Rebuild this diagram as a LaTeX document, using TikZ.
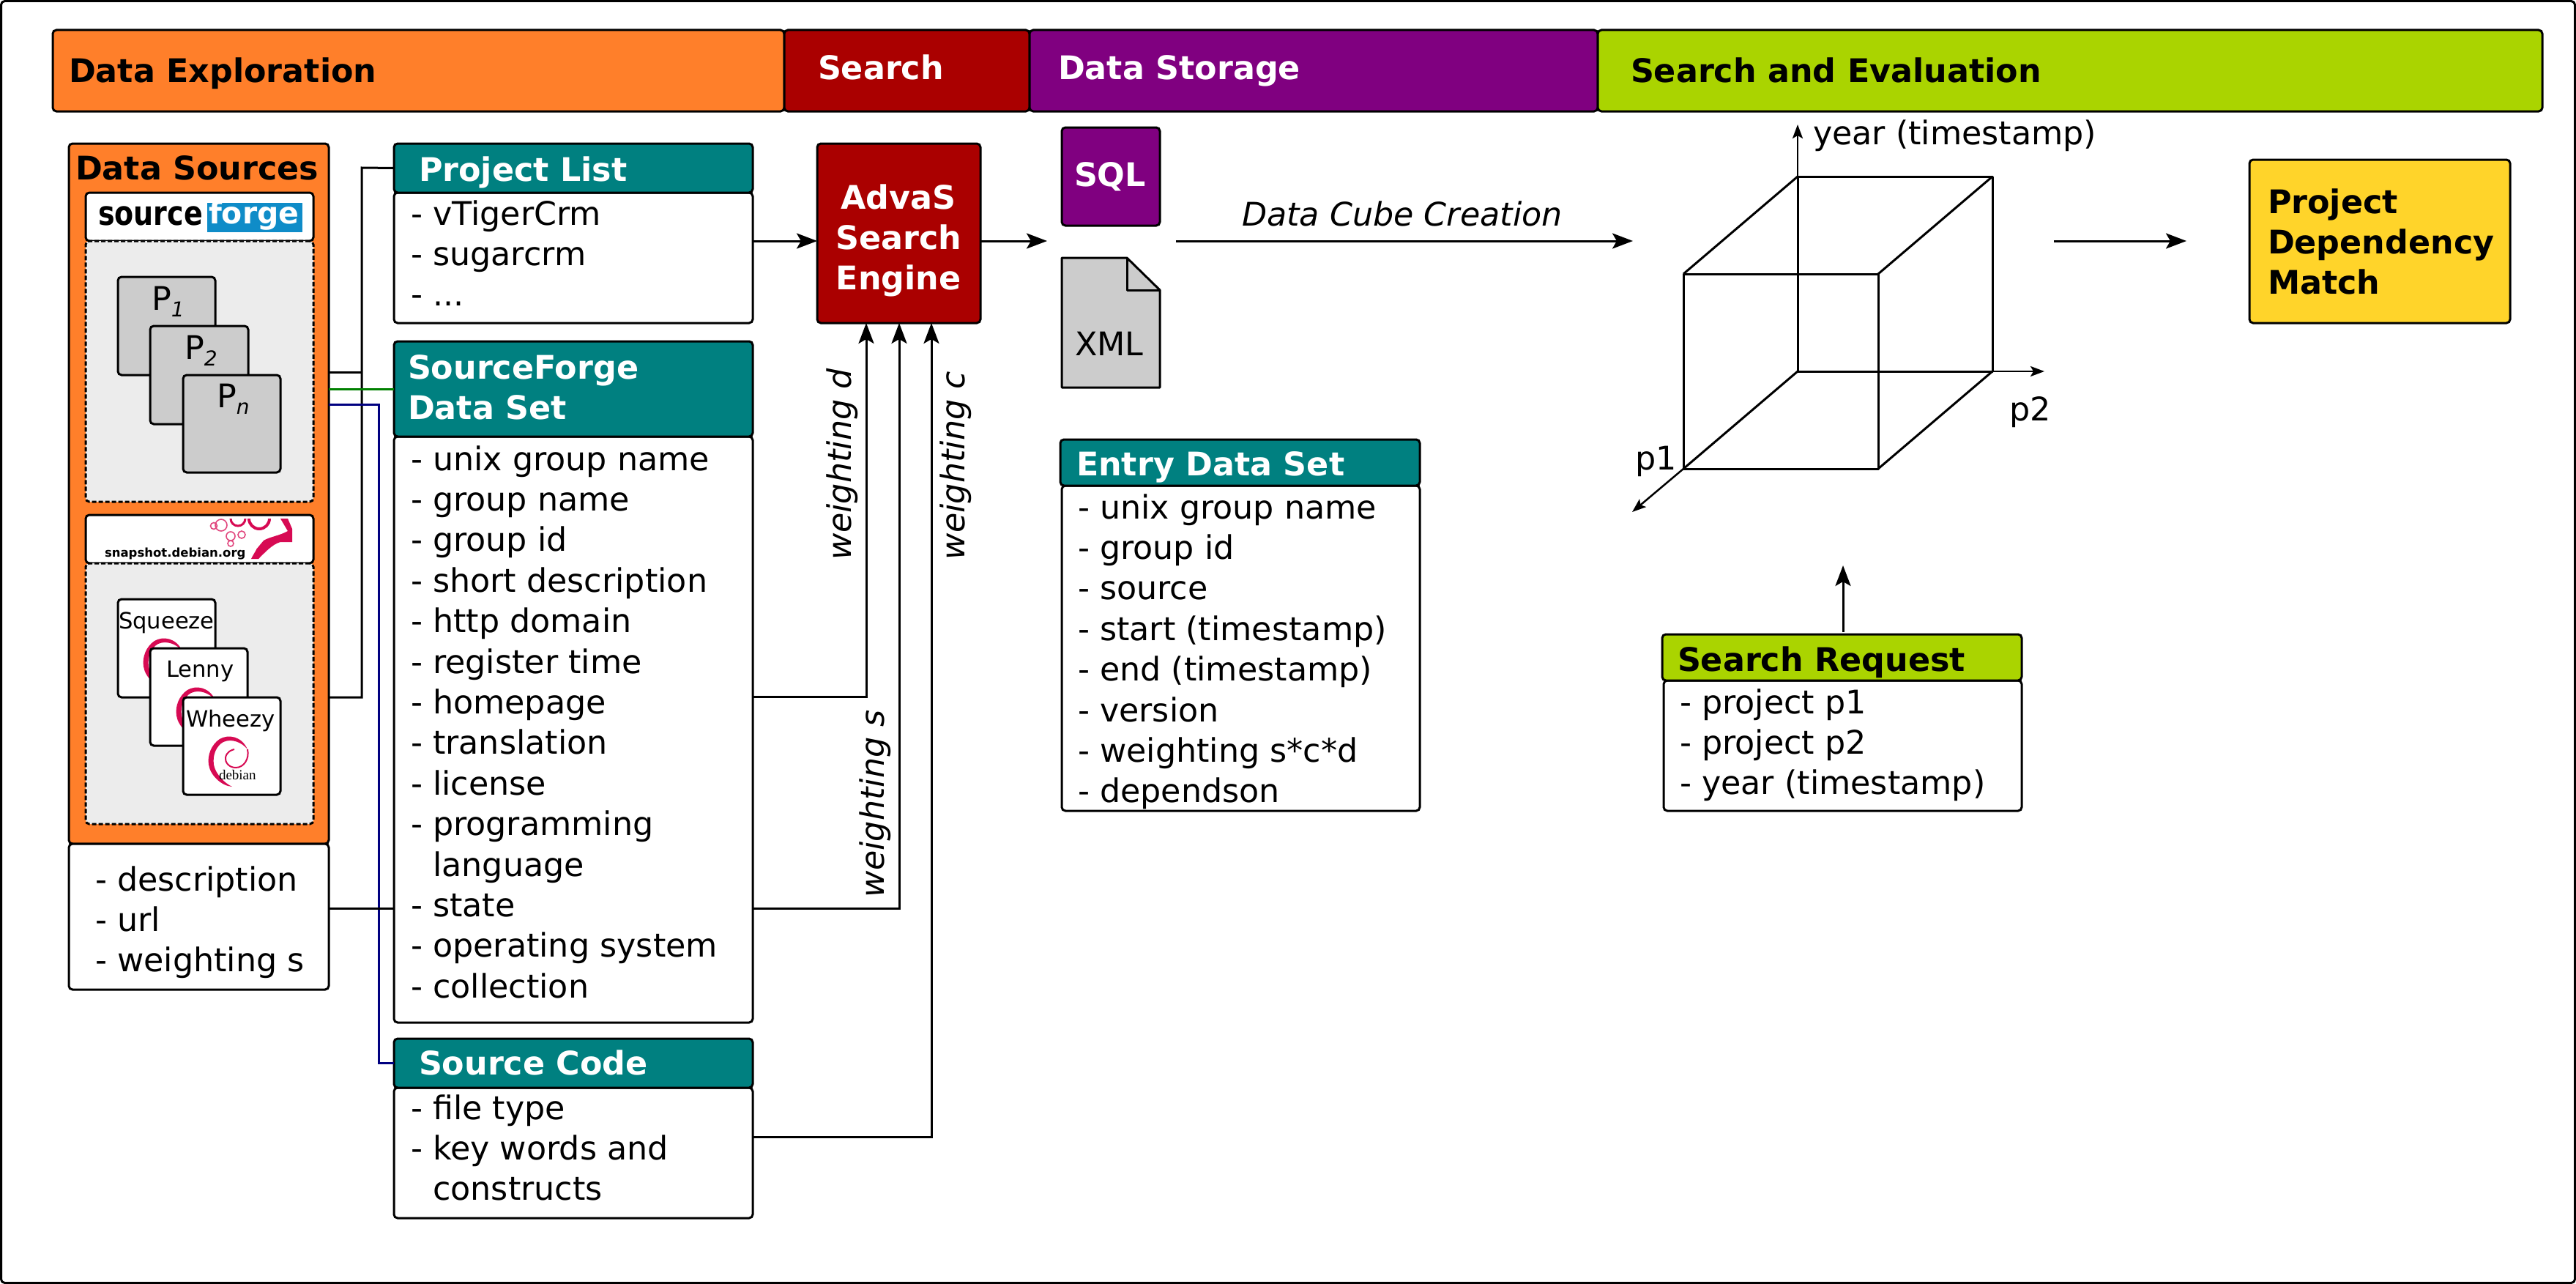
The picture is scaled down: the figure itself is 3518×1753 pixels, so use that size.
\documentclass[tikz,border=0pt]{standalone}
\usepackage{fontspec}
\setmainfont{DejaVu Sans}
\newfontfamily\tmsfont{Liberation Serif}
\usetikzlibrary{fit,arrows.meta,calc}
\definecolor{cOrange}{HTML}{FF7F2A}
\definecolor{cRed}{HTML}{AA0000}
\definecolor{cPurple}{HTML}{800080}
\definecolor{cLime}{HTML}{AAD400}
\definecolor{cTeal}{HTML}{008080}
\definecolor{cYellow}{HTML}{FFD42A}
\definecolor{cPanel}{HTML}{ECECEC}
\definecolor{cGray}{HTML}{CCCCCC}
\definecolor{cDeb}{HTML}{D70A53}
\definecolor{cSF}{HTML}{0F8CC8}
\newcommand\bx[6]{\node[#1,fit={(#3,#4)(#5,#6)}] (#2) {};}
\newcommand\tx[5][]{\node[plain,#1] (#2) at (#3,#4) {#5};}
\newcommand\lst[4]{\node[listtxt] (#1) at (#2,{#3-40}) {\rule{0pt}{40pt}#4};}
\newcommand\hang{\hphantom{-\ }}
\newcommand\mainfs{\fontsize{44.4}{55.4}\selectfont}
\tikzset{
  x=1pt,y=-1pt,
  plain/.style={inner sep=0,outer sep=0,anchor=base west,font=\mainfs},
  bold/.style={font=\mainfs\bfseries},
  obl/.style={font=\mainfs\itshape},
  listtxt/.style={inner sep=0,outer sep=0,anchor=north west,align=left,font=\mainfs},
  small/.style={font=\fontsize{30.6}{36}\selectfont},
  bxbase/.style={rectangle,rounded corners=5pt,inner sep=0,outer sep=0,draw=black,line width=3pt},
  wbox/.style={bxbase,fill=white},
  obox/.style={bxbase,fill=cOrange},
  rbox/.style={bxbase,fill=cRed},
  pbox/.style={bxbase,fill=cPurple},
  lbox/.style={bxbase,fill=cLime},
  tbox/.style={bxbase,fill=cTeal},
  ybox/.style={bxbase,fill=cYellow},
  gbox/.style={bxbase,fill=cGray},
  panel/.style={bxbase,fill=cPanel,dash pattern=on 6pt off 3pt},
  conn/.style={draw=black,line width=3pt},
  arr/.style={conn,-{Stealth[length=28pt,width=21pt,inset=6pt]}},
  axisarr/.style={draw=black,line width=2.5pt,-{Stealth[length=19pt,width=14pt,inset=4pt]}},
  cube/.style={draw=black,line width=3pt,line join=round},
}
\begin{document}
\begin{tikzpicture}
\useasboundingbox (0,0) rectangle (3518,1753);
\fill[white] (0,0) rectangle (3518,1753);
% outer frame
\bx{wbox}{frame}{1.5}{1.5}{3516.5}{1751.5}
% top bars
\bx{obox}{barA}{72}{41}{1071}{152}
\bx{rbox}{barB}{1071}{41}{1406}{152}
\bx{pbox}{barC}{1406}{41}{2182}{152}
\bx{lbox}{barD}{2182}{41}{3472}{152}
\tx[bold]{barAt}{94}{112}{Data Exploration}
\tx[bold,text=white]{barBt}{1117}{108}{Search}
\tx[bold,text=white]{barCt}{1445}{108}{Data Storage}
\tx[bold]{barDt}{2227}{112}{Search and Evaluation}
% data sources
\bx{obox}{ds}{94}{196}{449}{1152}
\bx{wbox}{desc}{94}{1152}{449}{1351}
\tx[bold]{dst}{103}{245}{Data Sources}
\lst{desct}{130}{1216}{- description\\- url\\- weighting s}
\bx{wbox}{sflogo}{117}{263}{428}{329}
\bx{panel}{sfpanel}{117}{329}{428}{685}
\node[plain,font=\fontsize{40}{40}\selectfont\bfseries] (sfa) at (134,307) {\scalebox{.95}[1.15]{source}};
\fill[cSF] (283,277) rectangle (413,317);
\node[plain,text=white,font=\fontsize{41}{41}\selectfont\bfseries] (sfb) at (285,305) {forge};
\bx{gbox}{p1}{161}{378}{294}{512}
\tx{p1t}{207}{423}{P\raisebox{-9pt}{\fontsize{28}{28}\selectfont\itshape 1}}
\bx{gbox}{p2}{205}{445}{339}{579}
\tx{p2t}{252}{490}{P\raisebox{-9pt}{\fontsize{28}{28}\selectfont\itshape 2}}
\bx{gbox}{pn}{250}{512}{383}{645}
\tx{pnt}{296}{556}{P\raisebox{-9pt}{\fontsize{28}{28}\selectfont\itshape n}}
% debian
\bx{wbox}{deblogo}{117}{703}{428}{769}
\bx{panel}{debpanel}{117}{769}{428}{1125}
\node[plain,font=\fontsize{16.5}{18}\selectfont\bfseries] (snap) at (143,760) {snapshot.debian.org};
\begin{scope}
\clip (280,708) rectangle (400,768);
\fill[cDeb] (383,708) -- (393,708) -- (399,722) -- (399,740) -- (383,740)
  .. controls (372,743) and (362,754) .. (353,763) -- (343,763)
  .. controls (347,755) and (352,748) .. (350,750) -- (360,738)
  .. controls (368,733) and (383,731) .. (393,725) -- cycle;
\draw[cDeb,line width=4pt] (354,708) circle (14);
\draw[cDeb,line width=3pt] (325,708) circle (10);
\draw[cDeb!75!white,line width=1.6pt] (302,717) circle (8) (292,718) circle (4.5) (315,732) circle (6) (330,730) circle (5) (315,742) circle (4);
\end{scope}
\newcommand\swirl[2]{%
  \begin{scope}[shift={(#1,#2)}]
  \fill[cDeb] (338,1023) .. controls (330,1005) and (312,1002) .. (300,1009)
    .. controls (288,1017) and (283,1032) .. (285,1044)
    .. controls (287,1058) and (302,1073) .. (317,1074)
    .. controls (306,1069) and (294,1056) .. (292,1044)
    .. controls (290,1030) and (296,1018) .. (305,1013)
    .. controls (316,1008) and (330,1013) .. (338,1023) -- cycle;
  \draw[cDeb,line width=2pt] (338,1023) .. controls (341,1036) and (333,1048) .. (322,1048)
    .. controls (312,1048) and (307,1040) .. (308,1034) .. controls (310,1026) and (316,1024) .. (320,1023);
  \end{scope}}
\bx{wbox}{sq}{161}{818}{294}{952}
\swirl{-89}{-134}
\tx[small]{sqt}{162}{858}{Squeeze}
\bx{wbox}{le}{205}{885}{338}{1018}
\swirl{-44}{-67}
\tx[small]{let}{227}{924}{Lenny}
\bx{wbox}{wh}{250}{952}{383}{1085}
\swirl{0}{0}
\tx[small]{wht}{254}{992}{Wheezy}
\node[plain,font=\tmsfont\fontsize{19}{19}\selectfont] (debt) at (299,1064) {debian};
% connectors left
\coordinate (bt) at (494,229);
\coordinate (bm) at (494,508);
\coordinate (bb) at (494,952);
\coordinate (bl) at (517,552);
% project list
\bx{wbox}{plb}{538}{263}{1028}{441}
\bx{tbox}{pl}{538}{196}{1028}{263}
\tx[bold,text=white]{plt}{572}{247}{Project List}
\lst{pll}{561}{307}{- vTigerCrm\\- sugarcrm\\- ...}
% sourceforge data set
\bx{wbox}{sfd}{538}{596}{1028}{1396}
\bx{tbox}{sfh}{538}{466}{1028}{596}
\node[listtxt,text=white,font=\mainfs\bfseries] (sft) at (557,{517-40}) {\rule{0pt}{40pt}SourceForge\\Data Set};
\lst{sfl}{561}{642}{- unix group name\\- group name\\- group id\\- short description\\- http domain\\- register time\\- homepage\\- translation\\- license\\- programming\\\hang language\\- state\\- operating system\\- collection}
% source code
\bx{wbox}{scb}{538}{1485}{1028}{1663}
\bx{tbox}{sch}{538}{1418}{1028}{1485}
\tx[bold,text=white]{sct}{572}{1467}{Source Code}
\lst{scl}{561}{1528}{- file type\\- key words and\\\hang constructs}
% connectors from sources
\draw[conn] (ds.east |- bm) -- (bm);
\draw[conn] (pl.west) -- (bt) -- (bb) -- (ds.east |- bb);
\draw[conn,draw={rgb,255:red,0;green,128;blue,0}] (ds.east |- sfh.west) -- (sfh.west);
\draw[conn,draw={rgb,255:red,0;green,0;blue,128}] (ds.east |- bl) -- (bl) -- (bl |- sch.west) -- (sch.west);
\draw[conn] (desc.east |- 0,1240) -- (sfd.west |- 0,1240);
% engine
\bx{rbox}{se}{1116}{196}{1339}{441}
\node[inner sep=0,outer sep=0,anchor=north,align=center,text=white,font=\mainfs\bfseries] (set) at (1227,245) {\rule{0pt}{40pt}AdvaS\\Search\\Engine};
\draw[arr] (plb.east |- 0,329) -- (se.west |- 0,329);
\draw[arr] (sfd.east |- 0,951) -- (1183,951) -- (se.south -| 1183,0);
\draw[arr] (sfd.east |- 0,1240) -- (1228,1240) -- (se.south -| 1228,0);
\draw[arr] (scb.east |- 0,1552) -- (1272,1552) -- (se.south -| 1272,0);
\node[plain,obl,rotate=90] (wd) at (1162,764) {weighting d};
\node[plain,obl,rotate=90] (ws) at (1207,1225) {weighting s};
\node[plain,obl,rotate=90] (wc) at (1317,764) {weighting c};
\coordinate (storeIn) at (1430,329);
\draw[arr] (se.east |- storeIn) -- (storeIn);
% storage
\bx{pbox}{sql}{1450}{174}{1584}{308}
\tx[bold,text=white]{sqlt}{1467}{254}{SQL}
\draw[draw=black,line width=3pt,fill=cGray,line join=round] (1450,352) -- (1539,352) -- (1584,396) -- (1584,529) -- (1450,529) -- cycle;
\draw[draw=black,line width=3pt,line join=round] (1539,352) -- (1539,396) -- (1584,396);
\tx{xmlt}{1468}{485}{XML}
% entry data set
\bx{wbox}{edb}{1450}{663}{1939}{1107}
\bx{tbox}{edh}{1448}{600}{1939}{663}
\tx[bold,text=white]{edt}{1470}{649}{Entry Data Set}
\lst{edl}{1472}{708}{- unix group name\\- group id\\- source\\- start (timestamp)\\- end (timestamp)\\- version\\- weighting s*c*d\\- dependson}
% data cube arrow
\coordinate (dcS) at (1606,329);
\coordinate (dcE) at (2230,329);
\draw[arr] (dcS) -- (dcE);
\tx[obl]{dct}{1696}{308}{Data Cube Creation}
% cube
\coordinate (b1) at (2455,241);
\coordinate (b2) at (2721,241);
\coordinate (b3) at (2721,507);
\coordinate (b4) at (2455,507);
\coordinate (f1) at (2299,374);
\coordinate (f2) at (2565,374);
\coordinate (f3) at (2565,640);
\coordinate (f4) at (2299,640);
\coordinate (axY) at (2455,170);
\coordinate (axX) at (2792,507);
\coordinate (axZ) at (2229,699);
\draw[cube] (b1) -- (b2) -- (b3) -- (b4) -- cycle;
\draw[cube] (f1) -- (f2) -- (f3) -- (f4) -- cycle;
\draw[cube] (b1) -- (f1) (b2) -- (f2) (b3) -- (f3) (b4) -- (f4);
\draw[axisarr] (b1) -- (axY);
\draw[axisarr] (b3) -- (axX);
\draw[axisarr] (f4) -- (axZ);
\tx{yt}{2476}{197}{year (timestamp)}
\tx{p2l}{2744}{574}{p2}
\tx{p1l}{2233}{641}{p1}
% result
\coordinate (resS) at (2805,329);
\coordinate (resE) at (2986,329);
\draw[arr] (resS) -- (resE);
\bx{ybox}{res}{3072}{218}{3428}{441}
\node[listtxt,font=\mainfs\bfseries] (rest) at (3097,{291-40}) {\rule{0pt}{40pt}Project\\Dependency\\Match};
% search request
\bx{wbox}{srb}{2272}{929}{2761}{1107}
\bx{lbox}{srh}{2270}{866}{2761}{929}
\tx[bold]{srt}{2291}{916}{Search Request}
\lst{srl}{2294}{974}{- project p1\\- project p2\\- year (timestamp)}
\coordinate (srTip) at (2517,772);
\draw[arr] (srh.north -| srTip) ++(0,-3) -- (srTip);
\end{tikzpicture}
\end{document}
